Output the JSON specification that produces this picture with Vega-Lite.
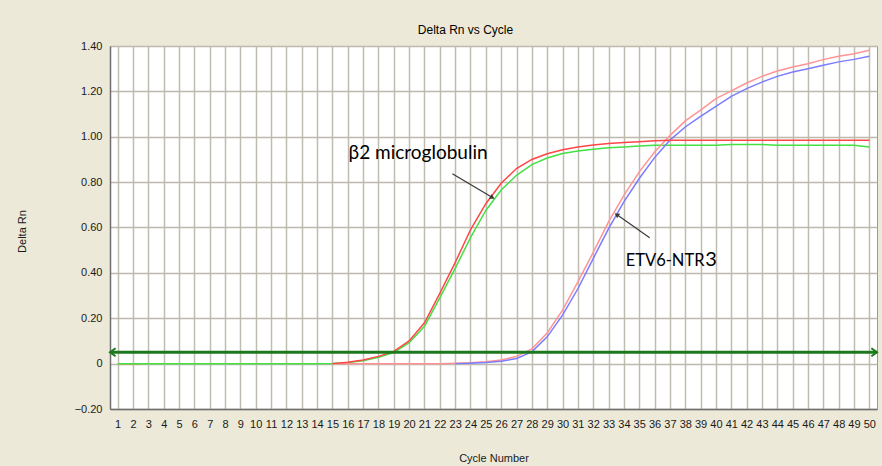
{
  "$schema": "https://vega.github.io/schema/vega-lite/v6.json",
  "width": 767,
  "height": 363,
  "autosize": {"type": "none"},
  "padding": {"left": 110, "top": 46, "right": 5, "bottom": 57},
  "background": "#ECE9D8",
  "title": {"text": "Delta Rn vs Cycle", "font": "Liberation Sans", "fontSize": 12, "fontWeight": "normal", "color": "#000000", "anchor": "middle", "offset": 3, "dx": -28},
  "config": {
    "view": {"stroke": "#9E9A8E", "strokeWidth": 1, "fill": "#FFFFFF"}
  },
  "datasets": {
    "curves": [
      {"series": "start", "cycle": 1, "value": -0.003}, {"series": "start", "cycle": 2.5, "value": -0.003},
      {"series": "b2_green", "cycle": 1, "value": 0}, {"series": "b2_green", "cycle": 2, "value": 0}, {"series": "b2_green", "cycle": 3, "value": 0}, {"series": "b2_green", "cycle": 4, "value": 0}, {"series": "b2_green", "cycle": 5, "value": 0}, {"series": "b2_green", "cycle": 6, "value": 0}, {"series": "b2_green", "cycle": 7, "value": 0}, {"series": "b2_green", "cycle": 8, "value": 0}, {"series": "b2_green", "cycle": 9, "value": 0}, {"series": "b2_green", "cycle": 10, "value": 0}, {"series": "b2_green", "cycle": 11, "value": 0}, {"series": "b2_green", "cycle": 12, "value": 0}, {"series": "b2_green", "cycle": 13, "value": 0}, {"series": "b2_green", "cycle": 14, "value": 0},
      {"series": "b2_green", "cycle": 15, "value": 0.001}, {"series": "b2_green", "cycle": 16, "value": 0.005}, {"series": "b2_green", "cycle": 17, "value": 0.013}, {"series": "b2_green", "cycle": 18, "value": 0.028}, {"series": "b2_green", "cycle": 19, "value": 0.049}, {"series": "b2_green", "cycle": 20, "value": 0.092}, {"series": "b2_green", "cycle": 21, "value": 0.165}, {"series": "b2_green", "cycle": 22, "value": 0.29}, {"series": "b2_green", "cycle": 23, "value": 0.42}, {"series": "b2_green", "cycle": 24, "value": 0.555}, {"series": "b2_green", "cycle": 25, "value": 0.675}, {"series": "b2_green", "cycle": 26, "value": 0.765}, {"series": "b2_green", "cycle": 27, "value": 0.83}, {"series": "b2_green", "cycle": 28, "value": 0.877}, {"series": "b2_green", "cycle": 29, "value": 0.906}, {"series": "b2_green", "cycle": 30, "value": 0.926}, {"series": "b2_green", "cycle": 31, "value": 0.937}, {"series": "b2_green", "cycle": 32, "value": 0.945}, {"series": "b2_green", "cycle": 33, "value": 0.951}, {"series": "b2_green", "cycle": 34, "value": 0.955}, {"series": "b2_green", "cycle": 35, "value": 0.959}, {"series": "b2_green", "cycle": 36, "value": 0.962}, {"series": "b2_green", "cycle": 37, "value": 0.963}, {"series": "b2_green", "cycle": 38, "value": 0.963}, {"series": "b2_green", "cycle": 39, "value": 0.963}, {"series": "b2_green", "cycle": 40, "value": 0.963}, {"series": "b2_green", "cycle": 41, "value": 0.966}, {"series": "b2_green", "cycle": 42, "value": 0.966}, {"series": "b2_green", "cycle": 43, "value": 0.966}, {"series": "b2_green", "cycle": 44, "value": 0.963}, {"series": "b2_green", "cycle": 45, "value": 0.963}, {"series": "b2_green", "cycle": 46, "value": 0.963}, {"series": "b2_green", "cycle": 47, "value": 0.963}, {"series": "b2_green", "cycle": 48, "value": 0.963}, {"series": "b2_green", "cycle": 49, "value": 0.962}, {"series": "b2_green", "cycle": 50, "value": 0.955},
      {"series": "etv_red", "cycle": 15, "value": 0}, {"series": "etv_red", "cycle": 16, "value": 0}, {"series": "etv_red", "cycle": 17, "value": 0}, {"series": "etv_red", "cycle": 18, "value": 0}, {"series": "etv_red", "cycle": 19, "value": 0}, {"series": "etv_red", "cycle": 20, "value": 0}, {"series": "etv_red", "cycle": 21, "value": 0}, {"series": "etv_red", "cycle": 22, "value": 0}, {"series": "etv_red", "cycle": 23, "value": 0.002}, {"series": "etv_red", "cycle": 24, "value": 0.004}, {"series": "etv_red", "cycle": 25, "value": 0.008}, {"series": "etv_red", "cycle": 26, "value": 0.016}, {"series": "etv_red", "cycle": 27, "value": 0.032}, {"series": "etv_red", "cycle": 28, "value": 0.065}, {"series": "etv_red", "cycle": 29, "value": 0.135}, {"series": "etv_red", "cycle": 30, "value": 0.236}, {"series": "etv_red", "cycle": 31, "value": 0.36}, {"series": "etv_red", "cycle": 32, "value": 0.49}, {"series": "etv_red", "cycle": 33, "value": 0.625}, {"series": "etv_red", "cycle": 34, "value": 0.742}, {"series": "etv_red", "cycle": 35, "value": 0.845}, {"series": "etv_red", "cycle": 36, "value": 0.933}, {"series": "etv_red", "cycle": 37, "value": 1.005}, {"series": "etv_red", "cycle": 38, "value": 1.07}, {"series": "etv_red", "cycle": 39, "value": 1.117}, {"series": "etv_red", "cycle": 40, "value": 1.168}, {"series": "etv_red", "cycle": 41, "value": 1.202}, {"series": "etv_red", "cycle": 42, "value": 1.237}, {"series": "etv_red", "cycle": 43, "value": 1.266}, {"series": "etv_red", "cycle": 44, "value": 1.29}, {"series": "etv_red", "cycle": 45, "value": 1.307}, {"series": "etv_red", "cycle": 46, "value": 1.322}, {"series": "etv_red", "cycle": 47, "value": 1.34}, {"series": "etv_red", "cycle": 48, "value": 1.355}, {"series": "etv_red", "cycle": 49, "value": 1.366}, {"series": "etv_red", "cycle": 50, "value": 1.381},
      {"series": "etv_blue", "cycle": 23, "value": 0}, {"series": "etv_blue", "cycle": 24, "value": 0.002}, {"series": "etv_blue", "cycle": 25, "value": 0.005}, {"series": "etv_blue", "cycle": 26, "value": 0.01}, {"series": "etv_blue", "cycle": 27, "value": 0.023}, {"series": "etv_blue", "cycle": 28, "value": 0.052}, {"series": "etv_blue", "cycle": 29, "value": 0.118}, {"series": "etv_blue", "cycle": 30, "value": 0.214}, {"series": "etv_blue", "cycle": 31, "value": 0.33}, {"series": "etv_blue", "cycle": 32, "value": 0.463}, {"series": "etv_blue", "cycle": 33, "value": 0.595}, {"series": "etv_blue", "cycle": 34, "value": 0.713}, {"series": "etv_blue", "cycle": 35, "value": 0.816}, {"series": "etv_blue", "cycle": 36, "value": 0.908}, {"series": "etv_blue", "cycle": 37, "value": 0.985}, {"series": "etv_blue", "cycle": 38, "value": 1.043}, {"series": "etv_blue", "cycle": 39, "value": 1.09}, {"series": "etv_blue", "cycle": 40, "value": 1.134}, {"series": "etv_blue", "cycle": 41, "value": 1.178}, {"series": "etv_blue", "cycle": 42, "value": 1.212}, {"series": "etv_blue", "cycle": 43, "value": 1.241}, {"series": "etv_blue", "cycle": 44, "value": 1.266}, {"series": "etv_blue", "cycle": 45, "value": 1.285}, {"series": "etv_blue", "cycle": 46, "value": 1.3}, {"series": "etv_blue", "cycle": 47, "value": 1.315}, {"series": "etv_blue", "cycle": 48, "value": 1.33}, {"series": "etv_blue", "cycle": 49, "value": 1.341}, {"series": "etv_blue", "cycle": 50, "value": 1.355},
      {"series": "b2_red", "cycle": 15, "value": 0}, {"series": "b2_red", "cycle": 16, "value": 0.006}, {"series": "b2_red", "cycle": 17, "value": 0.016}, {"series": "b2_red", "cycle": 18, "value": 0.032}, {"series": "b2_red", "cycle": 19, "value": 0.054}, {"series": "b2_red", "cycle": 20, "value": 0.1}, {"series": "b2_red", "cycle": 21, "value": 0.18}, {"series": "b2_red", "cycle": 22, "value": 0.31}, {"series": "b2_red", "cycle": 23, "value": 0.445}, {"series": "b2_red", "cycle": 24, "value": 0.59}, {"series": "b2_red", "cycle": 25, "value": 0.705}, {"series": "b2_red", "cycle": 26, "value": 0.795}, {"series": "b2_red", "cycle": 27, "value": 0.86}, {"series": "b2_red", "cycle": 28, "value": 0.9}, {"series": "b2_red", "cycle": 29, "value": 0.925}, {"series": "b2_red", "cycle": 30, "value": 0.943}, {"series": "b2_red", "cycle": 31, "value": 0.955}, {"series": "b2_red", "cycle": 32, "value": 0.964}, {"series": "b2_red", "cycle": 33, "value": 0.97}, {"series": "b2_red", "cycle": 34, "value": 0.975}, {"series": "b2_red", "cycle": 35, "value": 0.978}, {"series": "b2_red", "cycle": 36, "value": 0.982}, {"series": "b2_red", "cycle": 37, "value": 0.985}, {"series": "b2_red", "cycle": 38, "value": 0.985}, {"series": "b2_red", "cycle": 39, "value": 0.985}, {"series": "b2_red", "cycle": 40, "value": 0.985}, {"series": "b2_red", "cycle": 41, "value": 0.985}, {"series": "b2_red", "cycle": 42, "value": 0.985}, {"series": "b2_red", "cycle": 43, "value": 0.985}, {"series": "b2_red", "cycle": 44, "value": 0.985}, {"series": "b2_red", "cycle": 45, "value": 0.985}, {"series": "b2_red", "cycle": 46, "value": 0.985}, {"series": "b2_red", "cycle": 47, "value": 0.985}, {"series": "b2_red", "cycle": 48, "value": 0.985}, {"series": "b2_red", "cycle": 49, "value": 0.985}, {"series": "b2_red", "cycle": 50, "value": 0.985}
    ],
    "threshold": [
      {"cycle": 0.5, "value": 0.05, "end": "left"},
      {"cycle": 50.5, "value": 0.05, "end": "right"}
    ],
    "arrows": [
      {"target": "b2", "cycle": 22.82, "value": 0.837, "cycle2": 25.43, "value2": 0.732},
      {"target": "etv", "cycle": 35.68, "value": 0.555, "cycle2": 33.53, "value2": 0.657}
    ],
    "labels": [
      {"part": "b2", "cycle": 16.05, "value": 0.9, "label": "β2 microglobulin"},
      {"part": "etv", "cycle": 34.12, "value": 0.431, "label": "ETV6-NTR"},
      {"part": "three", "cycle": 39.3, "value": 0.431, "label": "3"}
    ]
  },
  "encoding": {
    "x": {
      "field": "cycle", "type": "quantitative",
      "scale": {"domain": [0.5, 50.5], "nice": false, "zero": false},
      "axis": {
        "title": "Cycle Number",
        "values": [1,2,3,4,5,6,7,8,9,10,11,12,13,14,15,16,17,18,19,20,21,22,23,24,25,26,27,28,29,30,31,32,33,34,35,36,37,38,39,40,41,42,43,44,45,46,47,48,49,50],
        "grid": true, "gridColor": "#C0BCB0", "gridWidth": 1.5,
        "ticks": false, "domainColor": "#6E6E6E", "domainWidth": 1.5,
        "labelFont": "Liberation Sans", "labelFontSize": 11, "labelColor": "#1A1A1A", "labelPadding": 9,
        "labelOverlap": false, "labelFlush": false, "labelBound": false, "labelAngle": 0,
        "titleFont": "Liberation Sans", "titleFontSize": 11, "titleFontWeight": "normal", "titleColor": "#1A1A1A",
        "titleY": 49, "titleBaseline": "middle"
      }
    },
    "y": {
      "field": "value", "type": "quantitative",
      "scale": {"domain": [-0.2, 1.4], "nice": false, "zero": false},
      "axis": {
        "title": "Delta Rn",
        "values": [-0.2, 0, 0.2, 0.4, 0.6, 0.8, 1, 1.2, 1.4],
        "labelExpr": "datum.value == 0 ? '0' : format(datum.value, '.2f')",
        "grid": true, "gridColor": "#BDB9AD", "gridWidth": 1.5,
        "ticks": false, "domainColor": "#6E6E6E", "domainWidth": 1.5,
        "labelFont": "Liberation Sans", "labelFontSize": 11, "labelColor": "#1A1A1A", "labelPadding": 8,
        "titleFont": "Liberation Sans", "titleFontSize": 11, "titleFontWeight": "normal", "titleColor": "#1A1A1A",
        "titleX": -88, "titleY": 185, "titleAlign": "center", "titleBaseline": "middle", "titleAngle": -90
      }
    }
  },
  "layer": [
    {
      "data": {"name": "curves"},
      "mark": {"type": "line", "strokeWidth": 1.5, "interpolate": "linear"},
      "encoding": {
        "color": {
          "field": "series", "type": "nominal", "legend": null,
          "scale": {"domain": ["start", "b2_green", "etv_red", "etv_blue", "b2_red"], "range": ["#D8A078", "#44E044", "#FF9494", "#7C7CFF", "#FF4646"]}
        },
        "order": {"field": "cycle", "type": "quantitative"}
      }
    },
    {
      "data": {"name": "threshold"},
      "mark": {"type": "line", "color": "#1C781C", "strokeWidth": 3},
      "encoding": {}
    },
    {
      "data": {"name": "threshold"},
      "mark": {"type": "point", "filled": false, "color": "#1C781C", "strokeWidth": 2, "size": 64, "opacity": 1},
      "encoding": {
        "shape": {"field": "end", "type": "nominal", "legend": null,
          "scale": {"domain": ["left", "right"], "range": ["M1.4,-1L0,0L1.4,1", "M-1.4,-1L0,0L-1.4,1"]}}
      }
    },
    {
      "data": {"name": "arrows"},
      "mark": {"type": "rule", "color": "#3A3A3A", "strokeWidth": 1.2},
      "encoding": {
        "x2": {"field": "cycle2"},
        "y2": {"field": "value2"}
      }
    },
    {
      "data": {"name": "arrows"},
      "transform": [{"filter": "datum.target == 'b2'"}],
      "mark": {"type": "point", "shape": "triangle-right", "angle": 31, "filled": true, "color": "#3A3A3A", "size": 30, "opacity": 1},
      "encoding": {
        "x": {"field": "cycle2", "type": "quantitative"},
        "y": {"field": "value2", "type": "quantitative"}
      }
    },
    {
      "data": {"name": "arrows"},
      "transform": [{"filter": "datum.target == 'etv'"}],
      "mark": {"type": "point", "shape": "triangle-right", "angle": 215, "filled": true, "color": "#3A3A3A", "size": 30, "opacity": 1},
      "encoding": {
        "x": {"field": "cycle2", "type": "quantitative"},
        "y": {"field": "value2", "type": "quantitative"}
      }
    },
    {
      "data": {"name": "labels"},
      "transform": [{"filter": "datum.part == 'b2'"}],
      "mark": {"type": "text", "font": "Lato", "fontSize": 19, "align": "left", "baseline": "alphabetic", "color": "#000000"},
      "encoding": {"text": {"field": "label"}}
    },
    {
      "data": {"name": "labels"},
      "transform": [{"filter": "datum.part == 'etv'"}],
      "mark": {"type": "text", "font": "Lato", "fontSize": 16.5, "align": "left", "baseline": "alphabetic", "color": "#000000"},
      "encoding": {"text": {"field": "label"}}
    },
    {
      "data": {"name": "labels"},
      "transform": [{"filter": "datum.part == 'three'"}],
      "mark": {"type": "text", "font": "Lato", "fontSize": 20, "align": "left", "baseline": "alphabetic", "color": "#000000"},
      "encoding": {"text": {"field": "label"}}
    }
  ]
}
